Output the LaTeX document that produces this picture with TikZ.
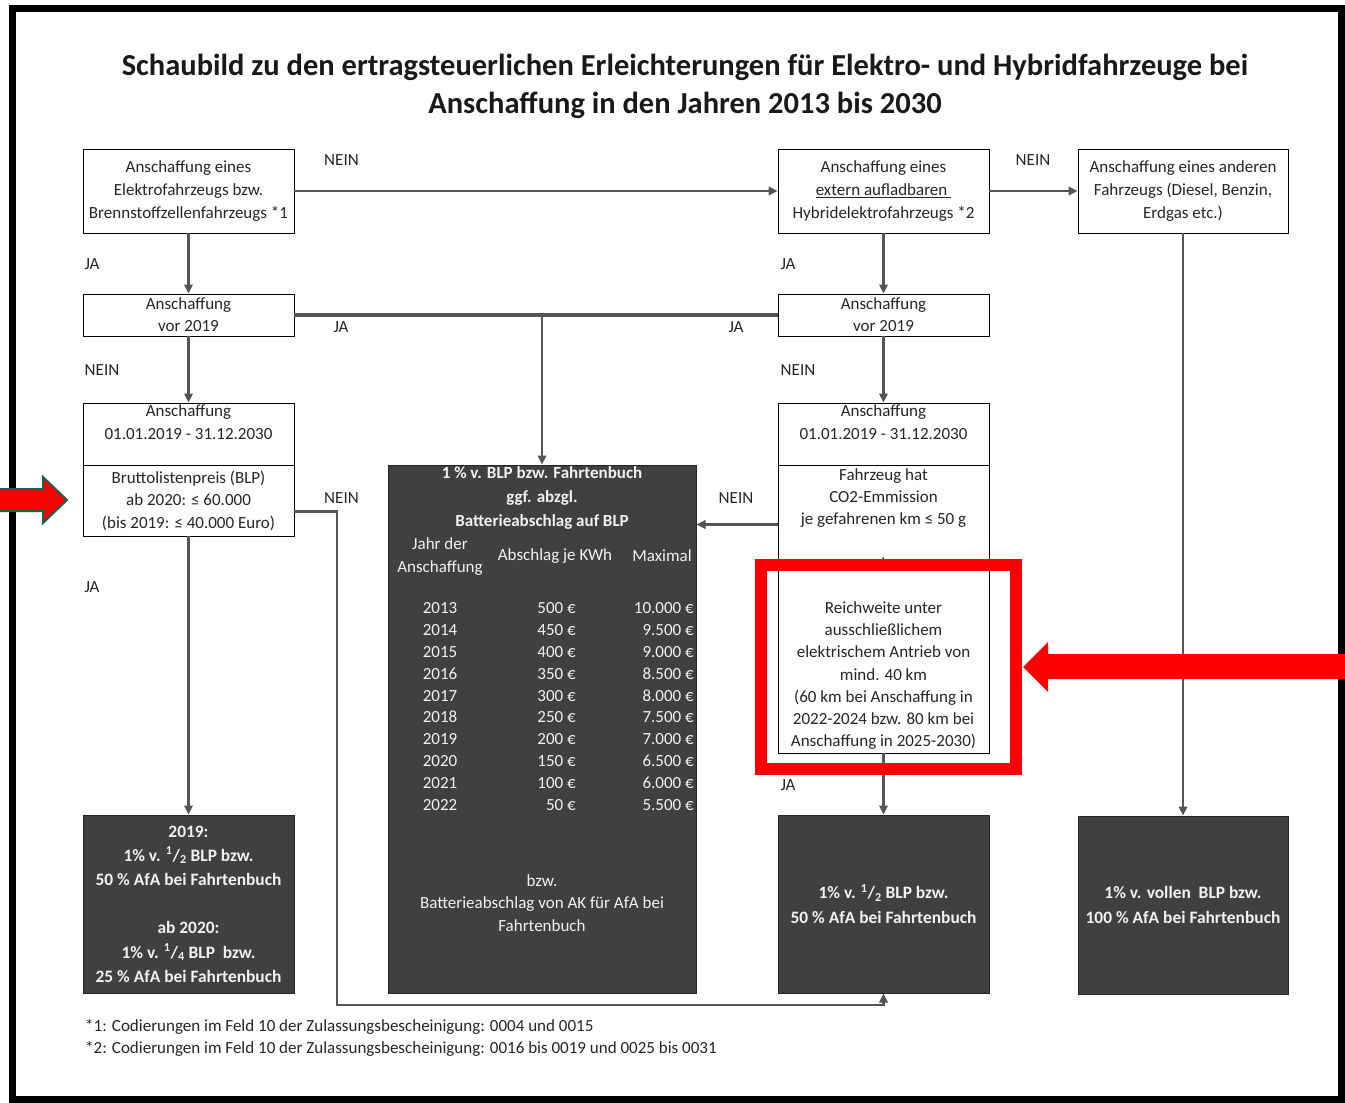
\documentclass[tikz,border=0pt]{standalone}
\usepackage{fontspec}
\setmainfont{Carlito}
\usetikzlibrary{arrows.meta,positioning}
\definecolor{dunkel}{HTML}{404040}
\definecolor{linie}{HTML}{555555}
\definecolor{rahmenrot}{HTML}{FF0000}
\definecolor{pfeilgruen}{HTML}{1E5E50}
\newcommand{\fz}{\fontsize{17}{23}\selectfont}
\tikzset{
 box/.style={draw=black,line width=0.9pt,fill=white,minimum width=211pt,inner sep=0pt,align=center,font=\fz,text=black!85},
 dbox/.style={draw=black!85,line width=1pt,fill=dunkel,minimum width=211pt,minimum height=178pt,inner sep=0pt,align=center,text=white!95!black,font=\fontsize{17.4}{24.2}\selectfont\bfseries},
 dtext/.style={inner sep=0pt,align=center,text=white!95!black},
 conn/.style={draw=linie,line width=2.2pt,-{Triangle[length=9pt,width=8.5pt]}},
 lbl/.style={inner sep=0pt,font=\fz,text=black!85},
}
\begin{document}
\begin{tikzpicture}[x=1pt,y=-1pt]
\useasboundingbox (0,0) rectangle (1345,1103);
\fill[white] (0,0) rectangle (1345,1103);
\draw[line width=7pt] (12.5,8.5) rectangle (1341.5,1099.5);

\node[font=\fontsize{30.5}{38}\selectfont\bfseries,align=center,text=black!90] (titel) at (685,86) {Schaubild zu den ertragsteuerlichen Erleichterungen für Elektro- und Hybridfahrzeuge bei\\Anschaffung in den Jahren 2013 bis 2030};

\node[box,minimum height=84pt] (elektro) at (188.5,191) {Anschaffung eines\\Elektrofahrzeugs bzw.\\Brennstoffzellenfahrzeugs *1};
\node[box,minimum height=84pt] (hybrid) at (883.5,191) {Anschaffung eines\\\underline{extern aufladbaren\ }\\Hybridelektrofahrzeugs *2};
\node[box,minimum height=84pt,minimum width=210pt] (anderes) at (1183,191) {Anschaffung eines anderen\\Fahrzeugs (Diesel, Benzin,\\Erdgas etc.)};
\node[box,minimum height=42pt,font=\fontsize{17}{22}\selectfont] (vora) at (188.5,315) {Anschaffung\\vor 2019};
\node[box,minimum height=42pt,font=\fontsize{17}{22}\selectfont] (vorb) at (883.5,315) {Anschaffung\\vor 2019};
\node[box,minimum height=62pt] (zeitra) at (188.5,434) {Anschaffung\\01.01.2019 - 31.12.2030\\\mbox{}};
\node[box,minimum height=71pt,font=\fontsize{17}{22.5}\selectfont] (blp) at (188.5,500.5) {Bruttolistenpreis (BLP)\\ab 2020: ≤ 60.000\\(bis 2019: ≤ 40.000 Euro)};
\node[box,minimum height=62pt] (zeitrb) at (883.5,434) {Anschaffung\\01.01.2019 - 31.12.2030\\\mbox{}};
\node[box,minimum height=288pt,font=\fontsize{17}{22.2}\selectfont] (co2) at (883.5,609) {Fahrzeug hat\\CO2-Emmission\\je gefahrenen km ≤ 50 g\\\mbox{}\\oder\\\mbox{}\\Reichweite unter\\ausschließlichem\\elektrischem Antrieb von\\mind. 40 km\\(60 km bei Anschaffung in\\2022-2024 bzw. 80 km bei\\Anschaffung in 2025-2030)};

\node[dbox] (haelfte) at (188.5,904) {2019:\\1\% v. \textsuperscript{1}/\textsubscript{2} BLP bzw.\\50 \% AfA bei Fahrtenbuch\\\mbox{}\\ab 2020:\\1\% v. \textsuperscript{1}/\textsubscript{4} BLP\ \ bzw.\\25 \% AfA bei Fahrtenbuch};
\node[dbox] (hybridblp) at (883.5,904) {1\% v. \textsuperscript{1}/\textsubscript{2} BLP bzw.\\50 \% AfA bei Fahrtenbuch};
\node[dbox,minimum width=210pt] (vollblp) at (1183,905) {1\% v. vollen\ \ BLP bzw.\\100 \% AfA bei Fahrtenbuch};

\node[dbox,minimum width=308pt,minimum height=528pt] (batterie) at (542,729) {};
\node[dtext,font=\fontsize{17}{24}\selectfont\bfseries] (battkopf) at (542,498) {1 \% v. BLP bzw. Fahrtenbuch\\ggf. abzgl.\\Batterieabschlag auf BLP};
\node[dtext,font=\fz] (jahrkopf) at (440,556.5) {Jahr der\\Anschaffung};
\node[dtext,font=\fz] (abschlkopf) at (555,556) {Abschlag je KWh};
\node[dtext,font=\fz] (maxkopf) at (662,556) {Maximal};
\node[dtext,font=\fontsize{17}{21.9}\selectfont] (jahre) at (440,706.5) {2013\\2014\\2015\\2016\\2017\\2018\\2019\\2020\\2021\\2022};
\node[dtext,align=right,anchor=east,font=\fontsize{17}{21.9}\selectfont] (abschlag) at (576,706.5) {500 €\\450 €\\400 €\\350 €\\300 €\\250 €\\200 €\\150 €\\100 €\\50 €};
\node[dtext,align=right,anchor=east,font=\fontsize{17}{21.9}\selectfont] (maximal) at (694,706.5) {10.000 €\\9.500 €\\9.000 €\\8.500 €\\8.000 €\\7.500 €\\7.000 €\\6.500 €\\6.000 €\\5.500 €};
\node[dtext,font=\fontsize{17}{22.5}\selectfont] (battfuss) at (542,903) {bzw.\\Batterieabschlag von AK für AfA bei\\Fahrtenbuch};

\draw[conn] (elektro) -- (hybrid);
\draw[conn] (hybrid) -- (anderes);
\draw[conn] (elektro) -- (vora);
\draw[conn] (hybrid) -- (vorb);
\draw[linie,line width=3.6pt] (vora.east) -- (vorb.west);
\draw[conn] (vora.east -| batterie.north) -- (batterie.north);
\draw[conn] (vora) -- (zeitra);
\draw[conn] (vorb) -- (zeitrb);
\draw[conn] (blp) -- (haelfte);
\draw[conn] ([yshift=-60pt]co2.north west) -- ([yshift=-60pt]co2.north west -| batterie.east);
\draw[conn] (co2) -- (hybridblp);
\draw[conn] (anderes) -- (vollblp);
\coordinate (umweg) at (337,1005);
\draw[conn] ([yshift=-11pt]blp.east) -| (umweg) -| (hybridblp.south);

\node[lbl] (neina) at (341.5,160) {NEIN};
\node[lbl] (neinb) at (1033,160) {NEIN};
\node[lbl] (jaa) at (92,264) {JA};
\node[lbl] (jab) at (788,264) {JA};
\node[lbl] (jac) at (341,327) {JA};
\node[lbl] (jad) at (736,327) {JA};
\node[lbl] (neinc) at (102,370) {NEIN};
\node[lbl] (neind) at (798,370) {NEIN};
\node[lbl] (jae) at (92,587) {JA};
\node[lbl] (neine) at (341.5,498) {NEIN};
\node[lbl] (neinf) at (736,498) {NEIN};
\node[lbl] (jaf) at (788,785) {JA};

\node[lbl,anchor=west] (fusseins) at (85,1027) {*1: Codierungen im Feld 10 der Zulassungsbescheinigung: 0004 und 0015};
\node[lbl,anchor=west] (fusszwei) at (85,1049) {*2: Codierungen im Feld 10 der Zulassungsbescheinigung: 0016 bis 0019 und 0025 bis 0031};

\draw[rahmenrot,line width=12pt] (760.5,565) rectangle (1015.5,769);
\fill[rahmenrot] (1347,654) -- (1048,654) -- (1048,642) -- (1023,667) -- (1048,692) -- (1048,679) -- (1347,679) -- cycle;
\filldraw[fill=rahmenrot,draw=pfeilgruen,line width=2pt] (-3,489) -- (43,489) -- (43,477) -- (67,500) -- (43,523) -- (43,511) -- (-3,511) -- cycle;
\end{tikzpicture}
\end{document}
